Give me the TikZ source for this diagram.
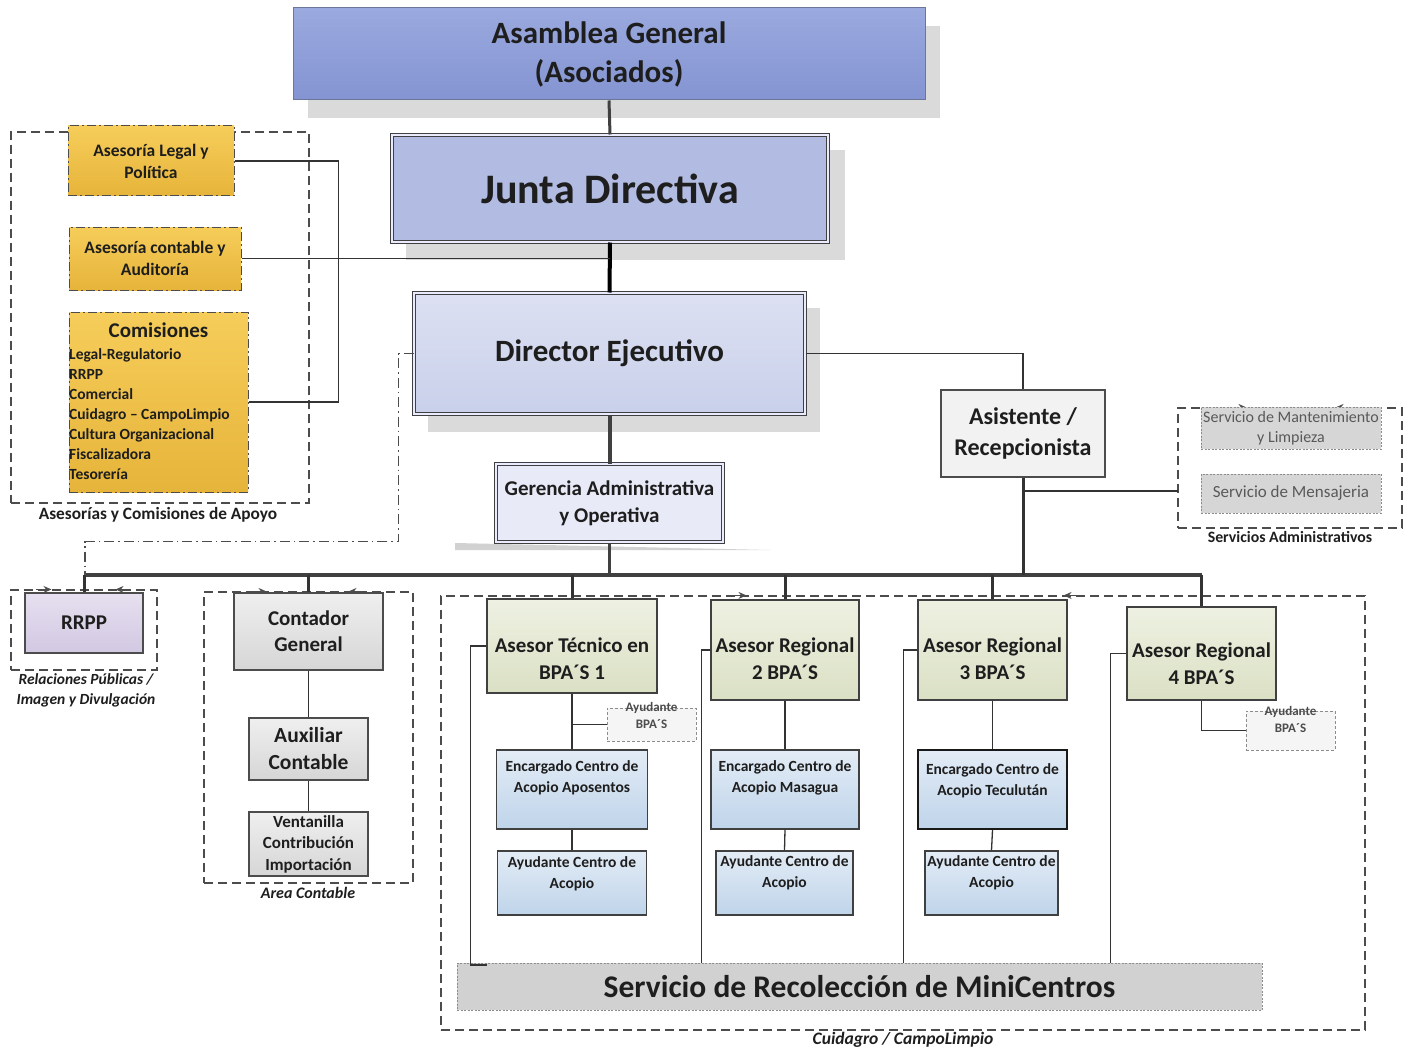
\documentclass[tikz,border=0pt]{standalone}
\usepackage{fontspec}
\setmainfont{Carlito}
\usetikzlibrary{arrows.meta,calc}
\newcommand\fsz[2]{\fontsize{#1}{#2}\selectfont}
\definecolor{asamT}{HTML}{9AA9DE}
\definecolor{asamB}{HTML}{8494D2}
\definecolor{juntaC}{HTML}{B2BCE3}
\definecolor{dirT}{HTML}{DCE0F2}
\definecolor{dirB}{HTML}{C9D0EA}
\definecolor{gerC}{HTML}{E8EBF7}
\definecolor{goldT}{HTML}{F6CD5A}
\definecolor{goldB}{HTML}{E6B43A}
\definecolor{lavT}{HTML}{E6E0F0}
\definecolor{lavB}{HTML}{D2C8E2}
\definecolor{grT}{HTML}{EFEFEF}
\definecolor{grB}{HTML}{D6D6D6}
\definecolor{olT}{HTML}{EEF1E2}
\definecolor{olB}{HTML}{DAE0C4}
\definecolor{blT}{HTML}{E3ECF6}
\definecolor{blB}{HTML}{BFD4EA}
\definecolor{shd}{HTML}{DADADA}
\definecolor{ink}{HTML}{1E1E1E}
\tikzset{
  every node/.style={inner sep=0pt, align=center, text=ink},
  dbl/.style={draw=black!75, double=white!92!blue, double distance=2pt, line width=1pt},
  gold/.style={draw=black!70, line width=1pt, dash pattern=on 9pt off 3pt on 2pt off 3pt, top color=goldT, bottom color=goldB},
  frame/.style={draw=black!70, line width=1.1pt, dash pattern=on 9pt off 5pt},
  gbox/.style={draw=black!70, line width=1.2pt, top color=grT, bottom color=grB},
  obox/.style={draw=black!75, line width=1.2pt, top color=olT, bottom color=olB},
  bbox/.style={draw=black!75, line width=1.2pt, top color=blT, bottom color=blB},
  abox/.style={draw=black!45, line width=0.9pt, dash pattern=on 3pt off 2pt, fill=white!96!black},
  sbox/.style={draw=black!45, line width=0.9pt, dash pattern=on 2pt off 1.5pt, fill=black!16},
  thin/.style={draw=black!80, line width=1.3pt},
  thick/.style={draw=black!80, line width=3pt},
  bus/.style={draw=black!75, line width=4.5pt},
  tip/.style={draw=black!70, line width=1pt, -{Stealth[length=8pt,width=7pt]}},
  astext/.style={font=\bfseries\fsz{21}{27}},
  enctext/.style={font=\bfseries\fsz{15.5}{20.5}},
  aytext/.style={text=black!70, font=\bfseries\fsz{13}{17}},
}
\begin{document}
\begin{tikzpicture}[x=1pt,y=-1pt]
\useasboundingbox (0,0) rectangle (1413,1051);
\fill[white] (0,0) rectangle (1413,1051);

% frames
\node[frame, minimum width=298, minimum height=371] (fsa) at (160,317.5) {};
\node[frame, minimum width=224, minimum height=120] (fsv) at (1290,468) {};
\node[frame, minimum width=146, minimum height=80] (frr) at (84,630) {};
\node[frame, minimum width=209, minimum height=291] (fco) at (308.5,737.5) {};
\node[frame, minimum width=924, minimum height=434] (fcu) at (903,813) {};

\draw[tip] ([xshift=70]fsa.north west) -- ++(27,0);
\draw[tip] ([xshift=-80]fsa.north east) -- ++(-14,0);
\draw[tip] ([xshift=26]frr.north west) -- ++(15,0);
\draw[tip] ([xshift=-27]frr.north east) -- ++(-15,0);
\draw[tip] ([xshift=48]fco.north west) -- ++(15,0);
\draw[tip] ([xshift=-50]fco.north east) -- ++(-15,0);
\draw[tip] ([xshift=289]fcu.north west) -- ++(17,0);
\draw[tip] ([xshift=-287]fcu.north east) -- ++(-15,0);
\draw[tip] ([xshift=57]fsv.north west) -- ++(12,0);
\draw[tip] ([xshift=-55]fsv.north east) -- ++(-12,0);

% shadows
\fill[shd] (308,26) rectangle (940,118);
\fill[shd] (406,150) rectangle (845,260);
\fill[shd] (428,308) rectangle (820,432);
\fill[black!18] (455,543) -- (770,550) -- (455,550) -- cycle;

% top hierarchy
\node[draw=asamT!70!black, line width=1pt, top color=asamT, bottom color=asamB,
      minimum width=632, minimum height=92, font=\bfseries\fsz{31}{39}] (asam) at (609,54) {Asamblea General\\(Asociados)};
\node[dbl, fill=juntaC, minimum width=436, minimum height=107, font=\bfseries\fsz{42}{48}] (junta) at (610,188.5) {Junta Directiva};
\node[dbl, top color=dirT, bottom color=dirB, minimum width=391, minimum height=121, font=\bfseries\fsz{31}{36}] (dir) at (609.5,353.5) {Director Ejecutivo};
\node[dbl, fill=gerC, minimum width=227, minimum height=78, font=\bfseries\fsz{21}{27}] (ger) at (609.5,503) {Gerencia Administrativa\\y Operativa};
\node[draw=black!70, line width=1.2pt, fill=black!5, minimum width=164, minimum height=87, font=\bfseries\fsz{24}{31}] (asis) at (1023,433.5) {Asistente /\\Recepcionista};

% asesorias
\node[gold, minimum width=166, minimum height=70, font=\bfseries\fsz{17.5}{22}] (legal) at (151,161) {Asesoría Legal y\\Política};
\node[gold, minimum width=172, minimum height=63, font=\bfseries\fsz{17.5}{22}] (conta) at (155,258.5) {Asesoría contable y\\Auditoría};
\node[gold, minimum width=179, minimum height=180] (comis) at (158.5,402) {};
\node[font=\bfseries\fsz{21}{24}] (comt) at (158.5,330) {Comisiones};
\node[anchor=north west, align=left, font=\bfseries\fsz{15.5}{20.1}] (coml) at (69,348) {Legal-Regulatorio\\RRPP\\Comercial\\Cuidagro – CampoLimpio\\Cultura Organizacional\\Fiscalizadora\\Tesorería};
\node[font=\bfseries\fsz{17.3}{20}] (lsa) at (158,515) {Asesorías y Comisiones de Apoyo};

% services
\node[sbox, minimum width=180, minimum height=42, text=black!65, font=\fsz{16}{20}] (mant) at (1291,428) {Servicio de Mantenimiento\\y Limpieza};
\node[sbox, minimum width=180, minimum height=39, text=black!65, font=\fsz{17}{21}] (mens) at (1291,493.5) {Servicio de Mensajeria};
\node[font=\bfseries\fsz{15.8}{20}] (lsv) at (1290,537) {Servicios Administrativos};

% rrpp
\node[draw=black!70, line width=1.2pt, top color=lavT, bottom color=lavB, minimum width=118, minimum height=60, font=\bfseries\fsz{21}{24}] (rrpp) at (84,623) {RRPP};
\node[font=\bfseries\itshape\fsz{15.5}{20}] (lrr) at (86,690) {Relaciones Públicas /\\Imagen y Divulgación};

% contable
\node[gbox, minimum width=149, minimum height=77, font=\bfseries\fsz{21}{26}] (cont) at (308.5,631.5) {Contador\\General};
\node[gbox, minimum width=119, minimum height=62, font=\bfseries\fsz{21.5}{27}] (aux) at (308.5,749) {Auxiliar\\Contable};
\node[gbox, minimum width=119, minimum height=64, font=\bfseries\fsz{17}{21.5}] (vent) at (308.5,844) {Ventanilla\\Contribución\\Importación};
\node[font=\bfseries\itshape\fsz{16}{20}] (lco) at (308,893) {Area Contable};

% asesores
\node[obox, minimum width=170, minimum height=94] (as1) at (572,646) {};
\node[astext] (as1t) at (572,658.5) {Asesor Técnico en\\BPA´S 1};
\node[obox, minimum width=148, minimum height=100] (as2) at (785,650) {};
\node[astext] (as2t) at (785,658.5) {Asesor Regional\\2 BPA´S};
\node[obox, minimum width=149, minimum height=100] (as3) at (992.5,650) {};
\node[astext] (as3t) at (992.5,658.5) {Asesor Regional\\3 BPA´S};
\node[obox, minimum width=149, minimum height=93] (as4) at (1201.5,653.5) {};
\node[astext] (as4t) at (1201.5,663.5) {Asesor Regional\\4 BPA´S};

\node[abox, minimum width=89, minimum height=33] (ayb1) at (651.5,724.5) {};
\node[aytext] (ayb1t) at (651.5,715.5) {Ayudante\\BPA´S};
\node[abox, minimum width=89, minimum height=39] (ayb4) at (1290.5,730.5) {};
\node[aytext] (ayb4t) at (1290.5,719.5) {Ayudante\\BPA´S};

\node[bbox, minimum width=151, minimum height=79] (enc1) at (572,789.5) {};
\node[enctext] (enc1t) at (572,778) {Encargado Centro de\\Acopio Aposentos};
\node[bbox, minimum width=148, minimum height=79] (enc2) at (785,789.5) {};
\node[enctext] (enc2t) at (785,778) {Encargado Centro de\\Acopio Masagua};
\node[bbox, draw=black!90, line width=2pt, minimum width=149, minimum height=79] (enc3) at (992.5,789.5) {};
\node[enctext] (enc3t) at (992.5,781) {Encargado Centro de\\Acopio Teculután};

\node[bbox, minimum width=149, minimum height=64] (ayc1) at (572,883) {};
\node[enctext] (ayc1t) at (572,874) {Ayudante Centro de\\Acopio};
\node[bbox, minimum width=137, minimum height=64] (ayc2) at (784.5,883) {};
\node[enctext] (ayc2t) at (784.5,873) {Ayudante Centro de\\Acopio};
\node[bbox, minimum width=133, minimum height=64] (ayc3) at (991.5,883) {};
\node[enctext] (ayc3t) at (991.5,873) {Ayudante Centro de\\Acopio};

\node[sbox, fill=black!18, minimum width=805, minimum height=47, font=\bfseries\fsz{31.5}{34}] (recol) at (859.5,986.5) {Servicio de Recolección de MiniCentros};
\node[font=\bfseries\itshape\fsz{17.5}{20}] (lcu) at (903,1040) {Cuidagro / CampoLimpio};

% connectors
\coordinate (busL) at (85,575);
\coordinate (busR) at (1202,575);
\coordinate (jd) at (610,258.5);
\coordinate (sv) at (1178,491);
\draw[line width=3pt, draw=black!75] (asam.south) -- (junta.north);
\draw[line width=4pt, draw=black] (junta.south) -- (dir.north);
\draw[line width=4pt, draw=black!75] (dir.south) -- (ger.north);
\draw[line width=3.5pt, draw=black!75] (ger.south) -- (ger.south |- busL);
\draw[bus] (busL) -- (busR);
\draw[thick] (asis.south) -- (asis.south |- busL);
\draw[thin] (dir.east) -| (asis.north);
\draw[thin] (asis.south |- sv) -- (sv);
\draw[thin] (legal.east) -- ++(104,0) |- (comis.east);
\draw[thin] (conta.east) -- (jd);
\draw[draw=black!70, line width=1.1pt, dash pattern=on 10pt off 4pt on 1.5pt off 4pt] (dir.west) -- ++(-15,0) -- ++(0,188) -| (busL);

\draw[thick] (rrpp.north |- busL) -- (rrpp.north);
\draw[thick] (cont.north |- busL) -- (cont.north);
\draw[thick] (as1.north |- busL) -- (as1.north);
\draw[thick] (as2.north |- busL) -- (as2.north);
\draw[thick] (as3.north |- busL) -- (as3.north);
\draw[thick] (as4.north |- busL) -- (as4.north);

\draw[thin] (cont.south) -- (aux.north);
\draw[thin] (aux.south) -- (vent.north);

\draw[thin] (as1.south) -- (enc1.north);
\draw[thin] (as1.south |- ayb1.west) -- (ayb1.west);
\draw[thin] (enc1.south) -- (ayc1.north);
\draw[thin] (as2.south) -- (enc2.north);
\draw[thin] (enc2.south) -- (ayc2.north);
\draw[thin] (as3.south) -- (enc3.north);
\draw[thin] (enc3.south) -- (ayc3.north);
\draw[thin] (as4.south) |- (ayb4.west);

\coordinate (h1) at (487,965);
\draw[thin] (as1.west) -- ++(-16,0) |- (h1);
\draw[thin] (as2.west) -- ++(-9,0) coordinate (t2) -- (t2 |- recol.north);
\draw[thin] (as3.west) -- ++(-14,0) coordinate (t3) -- (t3 |- recol.north);
\draw[thin] (as4.west) -- ++(-16,0) coordinate (t4) -- (t4 |- recol.north);
\end{tikzpicture}
\end{document}
